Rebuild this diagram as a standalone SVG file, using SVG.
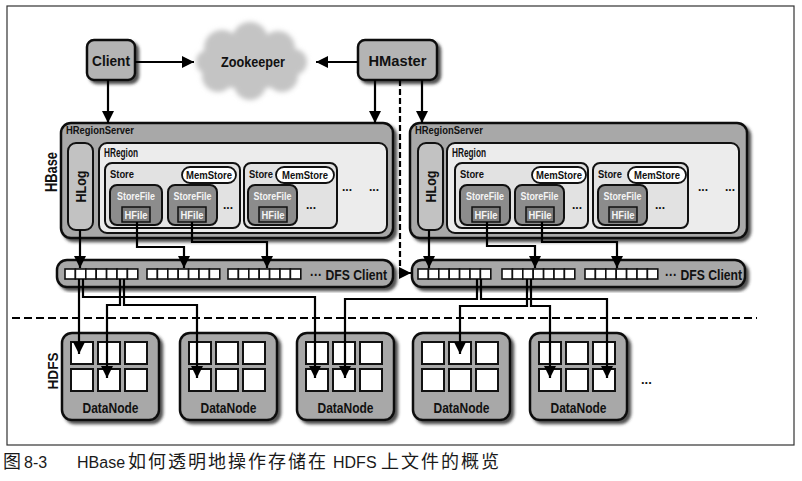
<svg xmlns="http://www.w3.org/2000/svg" width="802" height="481" viewBox="0 0 802 481">
<defs>
<style>
text{font-family:"Liberation Sans",Arial,sans-serif;font-weight:bold;fill:#111}
.box{fill:#b4b4b4;stroke:#111;stroke-width:2.5}
.srv{fill:#a8a8a8;stroke:#111;stroke-width:2.5}
.hlog{fill:#c2c2c2;stroke:#111;stroke-width:2}
.hreg{fill:#ececec;stroke:#111;stroke-width:2}
.store{fill:#e2e2e2;stroke:#111;stroke-width:2}
.mem{fill:#fff;stroke:#111;stroke-width:1.8}
.sf{fill:#8c8c8c;stroke:#111;stroke-width:2}
.hf{fill:#7a7a7a;stroke:#111;stroke-width:1.5}
.cell{fill:#fff;stroke:#111;stroke-width:2}
.dcell{fill:#fff;stroke:#111;stroke-width:1.6}
.c{text-anchor:middle}
.lt{fill:#f4f4f4}
.ln{fill:none;stroke:#000;stroke-width:2.2}
.arr{marker-end:url(#ah)}
.cap{font-family:"Liberation Sans","Noto Sans CJK SC",sans-serif;font-weight:normal;font-size:16px;fill:#1a1a1a}
.cj{font-size:18px;letter-spacing:2px}
</style>
<marker id="ah" viewBox="0 0 10 10" refX="10" refY="5" markerWidth="12" markerHeight="12" markerUnits="userSpaceOnUse" orient="auto"><path d="M0,0 L10,5 L0,10 z" fill="#000"/></marker>
<filter id="sh" x="-10%" y="-10%" width="130%" height="130%"><feDropShadow dx="3" dy="3" stdDeviation="1.6" flood-color="#333" flood-opacity="0.85"/></filter>
<filter id="blur" x="-20%" y="-20%" width="140%" height="140%"><feGaussianBlur stdDeviation="2.5"/></filter>
</defs>
<rect x="7" y="6" width="787" height="439" fill="#fff" stroke="#333" stroke-width="1.2"/>

<g id="client"><rect class="box" x="87" y="40" width="48" height="40" rx="7" filter="url(#sh)"/><text class="c" x="111" y="66" font-size="15" textLength="38" lengthAdjust="spacingAndGlyphs">Client</text></g>
<g id="zookeeper"><g filter="url(#blur)" fill="#c4c4c4"><ellipse cx="250" cy="62" rx="48" ry="28"/><circle cx="222" cy="48" r="18"/><circle cx="250" cy="40" r="18"/><circle cx="278" cy="48" r="17"/><circle cx="218" cy="76" r="16"/><circle cx="250" cy="84" r="16"/><circle cx="282" cy="76" r="16"/><circle cx="208" cy="62" r="12"/><circle cx="294" cy="62" r="13"/></g><text class="c" x="253" y="67" font-size="15" textLength="64" lengthAdjust="spacingAndGlyphs">Zookeeper</text></g>
<g id="hmaster"><rect class="box" x="358" y="40" width="79" height="40" rx="7" filter="url(#sh)"/><text class="c" x="397.5" y="66" font-size="15" textLength="58" lengthAdjust="spacingAndGlyphs">HMaster</text></g>

<g id="hbase-label"><text class="c" transform="translate(57 172) rotate(-90)" font-size="16" textLength="40" lengthAdjust="spacingAndGlyphs">HBase</text></g>
<g id="hdfs-label"><text class="c" transform="translate(58 371) rotate(-90)" font-size="15" textLength="37" lengthAdjust="spacingAndGlyphs">HDFS</text></g>

<g id="hregionserver1">
<rect class="srv" x="61" y="123" width="332" height="115" rx="10" filter="url(#sh)"/>
<text x="66" y="134" font-size="11" textLength="68" lengthAdjust="spacingAndGlyphs">HRegionServer</text>
<g id="hlog1"><rect class="hlog" x="68" y="143" width="25" height="87" rx="8"/><text class="c" transform="translate(86 186.5) rotate(-90)" font-size="14" textLength="32" lengthAdjust="spacingAndGlyphs">HLog</text></g>
<g id="hregion1">
<rect class="hreg" x="99" y="143" width="288" height="90" rx="8"/>
<text x="104" y="157" font-size="12" textLength="34" lengthAdjust="spacingAndGlyphs">HRegion</text>
<rect class="store" x="105" y="163" width="135" height="65" rx="7"/>
<text x="110" y="178" font-size="11.5" textLength="24" lengthAdjust="spacingAndGlyphs">Store</text>
<rect class="mem" x="182" y="167" width="54" height="16" rx="8"/><text class="c" x="209" y="179" font-size="11.5" textLength="46" lengthAdjust="spacingAndGlyphs">MemStore</text>
<rect class="sf" x="110" y="185" width="52" height="40" rx="7"/><text class="c lt" x="136" y="200" font-size="11.5" textLength="38" lengthAdjust="spacingAndGlyphs">StoreFile</text>
<rect class="hf" x="122" y="207" width="28" height="15"/><text class="c lt" x="136" y="219" font-size="11" textLength="23" lengthAdjust="spacingAndGlyphs">HFile</text>
<rect class="sf" x="168" y="185" width="49" height="40" rx="7"/><text class="c lt" x="192.5" y="200" font-size="11.5" textLength="38" lengthAdjust="spacingAndGlyphs">StoreFile</text>
<rect class="hf" x="178" y="207" width="28" height="15"/><text class="c lt" x="192" y="219" font-size="11" textLength="23" lengthAdjust="spacingAndGlyphs">HFile</text>
<text x="223" y="209" font-size="12">...</text>
<rect class="store" x="244" y="163" width="93" height="65" rx="7"/>
<text x="249" y="178" font-size="11.5" textLength="24" lengthAdjust="spacingAndGlyphs">Store</text>
<rect class="mem" x="276" y="167" width="58" height="16" rx="8"/><text class="c" x="305" y="179" font-size="11.5" textLength="46" lengthAdjust="spacingAndGlyphs">MemStore</text>
<rect class="sf" x="248" y="185" width="49" height="40" rx="7"/><text class="c lt" x="272.5" y="200" font-size="11.5" textLength="38" lengthAdjust="spacingAndGlyphs">StoreFile</text>
<rect class="hf" x="259" y="207" width="28" height="15"/><text class="c lt" x="273" y="219" font-size="11" textLength="23" lengthAdjust="spacingAndGlyphs">HFile</text>
<text x="306" y="209" font-size="12">...</text>
<text x="342" y="191" font-size="12">...</text>
</g>
<text x="369" y="191" font-size="12">...</text>
</g>

<g id="hregionserver2">
<rect class="srv" x="410" y="123" width="337" height="115" rx="10" filter="url(#sh)"/>
<text x="415" y="134" font-size="11" textLength="68" lengthAdjust="spacingAndGlyphs">HRegionServer</text>
<g id="hlog2"><rect class="hlog" x="418" y="143" width="25" height="87" rx="8"/><text class="c" transform="translate(436 186.5) rotate(-90)" font-size="14" textLength="32" lengthAdjust="spacingAndGlyphs">HLog</text></g>
<g id="hregion2">
<rect class="hreg" x="447" y="143" width="292" height="90" rx="8"/>
<text x="452" y="157" font-size="12" textLength="34" lengthAdjust="spacingAndGlyphs">HRegion</text>
<rect class="store" x="455" y="163" width="133" height="65" rx="7"/>
<text x="460" y="178" font-size="11.5" textLength="24" lengthAdjust="spacingAndGlyphs">Store</text>
<rect class="mem" x="532" y="167" width="54" height="16" rx="8"/><text class="c" x="559" y="179" font-size="11.5" textLength="46" lengthAdjust="spacingAndGlyphs">MemStore</text>
<rect class="sf" x="460" y="185" width="50" height="40" rx="7"/><text class="c lt" x="485" y="200" font-size="11.5" textLength="38" lengthAdjust="spacingAndGlyphs">StoreFile</text>
<rect class="hf" x="472" y="207" width="28" height="15"/><text class="c lt" x="486" y="219" font-size="11" textLength="23" lengthAdjust="spacingAndGlyphs">HFile</text>
<rect class="sf" x="515" y="185" width="49" height="40" rx="7"/><text class="c lt" x="539.5" y="200" font-size="11.5" textLength="38" lengthAdjust="spacingAndGlyphs">StoreFile</text>
<rect class="hf" x="526" y="207" width="28" height="15"/><text class="c lt" x="540" y="219" font-size="11" textLength="23" lengthAdjust="spacingAndGlyphs">HFile</text>
<text x="572" y="209" font-size="12">...</text>
<rect class="store" x="593" y="163" width="95" height="65" rx="7"/>
<text x="598" y="178" font-size="11.5" textLength="24" lengthAdjust="spacingAndGlyphs">Store</text>
<rect class="mem" x="628" y="167" width="58" height="16" rx="8"/><text class="c" x="657" y="179" font-size="11.5" textLength="46" lengthAdjust="spacingAndGlyphs">MemStore</text>
<rect class="sf" x="598" y="185" width="49" height="40" rx="7"/><text class="c lt" x="622.5" y="200" font-size="11.5" textLength="38" lengthAdjust="spacingAndGlyphs">StoreFile</text>
<rect class="hf" x="609" y="207" width="28" height="15"/><text class="c lt" x="623" y="219" font-size="11" textLength="23" lengthAdjust="spacingAndGlyphs">HFile</text>
<text x="655" y="209" font-size="12">...</text>
<text x="698" y="191" font-size="12">...</text>
</g>
<text x="725" y="191" font-size="12">...</text>
</g>

<g id="dfsclient1">
<rect class="srv" x="57" y="260" width="336" height="27" rx="10" filter="url(#sh)"/>
<g>
<rect class="dcell" x="65" y="269" width="10.4" height="10"/><rect class="dcell" x="75.4" y="269" width="10.4" height="10"/><rect class="dcell" x="85.8" y="269" width="10.4" height="10"/><rect class="dcell" x="96.2" y="269" width="10.4" height="10"/><rect class="dcell" x="106.6" y="269" width="10.4" height="10"/><rect class="dcell" x="117" y="269" width="10.4" height="10"/><rect class="dcell" x="127.4" y="269" width="10.4" height="10"/>
<rect class="dcell" x="147" y="269" width="10.4" height="10"/><rect class="dcell" x="157.4" y="269" width="10.4" height="10"/><rect class="dcell" x="167.8" y="269" width="10.4" height="10"/><rect class="dcell" x="178.2" y="269" width="10.4" height="10"/><rect class="dcell" x="188.6" y="269" width="10.4" height="10"/><rect class="dcell" x="199" y="269" width="10.4" height="10"/><rect class="dcell" x="209.4" y="269" width="10.4" height="10"/>
<rect class="dcell" x="228" y="269" width="10.4" height="10"/><rect class="dcell" x="238.4" y="269" width="10.4" height="10"/><rect class="dcell" x="248.8" y="269" width="10.4" height="10"/><rect class="dcell" x="259.2" y="269" width="10.4" height="10"/><rect class="dcell" x="269.6" y="269" width="10.4" height="10"/><rect class="dcell" x="280" y="269" width="10.4" height="10"/><rect class="dcell" x="290.4" y="269" width="10.4" height="10"/>
</g>
<text x="310" y="280" font-size="15" textLength="77" lengthAdjust="spacingAndGlyphs">··· DFS Client</text>
</g>

<g id="dfsclient2">
<rect class="srv" x="412" y="260" width="333" height="27" rx="10" filter="url(#sh)"/>
<g>
<rect class="dcell" x="418" y="269" width="10.4" height="10"/><rect class="dcell" x="428.4" y="269" width="10.4" height="10"/><rect class="dcell" x="438.8" y="269" width="10.4" height="10"/><rect class="dcell" x="449.2" y="269" width="10.4" height="10"/><rect class="dcell" x="459.6" y="269" width="10.4" height="10"/><rect class="dcell" x="470" y="269" width="10.4" height="10"/><rect class="dcell" x="480.4" y="269" width="10.4" height="10"/>
<rect class="dcell" x="502" y="269" width="10.4" height="10"/><rect class="dcell" x="512.4" y="269" width="10.4" height="10"/><rect class="dcell" x="522.8" y="269" width="10.4" height="10"/><rect class="dcell" x="533.2" y="269" width="10.4" height="10"/><rect class="dcell" x="543.6" y="269" width="10.4" height="10"/><rect class="dcell" x="554" y="269" width="10.4" height="10"/><rect class="dcell" x="564.4" y="269" width="10.4" height="10"/>
<rect class="dcell" x="585" y="269" width="10.4" height="10"/><rect class="dcell" x="595.4" y="269" width="10.4" height="10"/><rect class="dcell" x="605.8" y="269" width="10.4" height="10"/><rect class="dcell" x="616.2" y="269" width="10.4" height="10"/><rect class="dcell" x="626.6" y="269" width="10.4" height="10"/><rect class="dcell" x="637" y="269" width="10.4" height="10"/><rect class="dcell" x="647.4" y="269" width="10.4" height="10"/>
</g>
<text x="665" y="280" font-size="15" textLength="77" lengthAdjust="spacingAndGlyphs">··· DFS Client</text>
</g>

<g id="datanode1"><rect class="srv" x="62" y="333" width="97" height="87" rx="10" filter="url(#sh)"/>
<rect class="cell" x="71" y="342" width="22" height="22"/><rect class="cell" x="98" y="342" width="22" height="22"/><rect class="cell" x="125" y="342" width="22" height="22"/><rect class="cell" x="71" y="369" width="22" height="22"/><rect class="cell" x="98" y="369" width="22" height="22"/><rect class="cell" x="125" y="369" width="22" height="22"/>
<text class="c" x="110.5" y="413" font-size="15" textLength="56" lengthAdjust="spacingAndGlyphs">DataNode</text></g>
<g id="datanode2"><rect class="srv" x="180" y="333" width="97" height="87" rx="10" filter="url(#sh)"/>
<rect class="cell" x="189" y="342" width="22" height="22"/><rect class="cell" x="216" y="342" width="22" height="22"/><rect class="cell" x="243" y="342" width="22" height="22"/><rect class="cell" x="189" y="369" width="22" height="22"/><rect class="cell" x="216" y="369" width="22" height="22"/><rect class="cell" x="243" y="369" width="22" height="22"/>
<text class="c" x="228.5" y="413" font-size="15" textLength="56" lengthAdjust="spacingAndGlyphs">DataNode</text></g>
<g id="datanode3"><rect class="srv" x="297" y="333" width="97" height="87" rx="10" filter="url(#sh)"/>
<rect class="cell" x="306" y="342" width="22" height="22"/><rect class="cell" x="333" y="342" width="22" height="22"/><rect class="cell" x="360" y="342" width="22" height="22"/><rect class="cell" x="306" y="369" width="22" height="22"/><rect class="cell" x="333" y="369" width="22" height="22"/><rect class="cell" x="360" y="369" width="22" height="22"/>
<text class="c" x="345.5" y="413" font-size="15" textLength="56" lengthAdjust="spacingAndGlyphs">DataNode</text></g>
<g id="datanode4"><rect class="srv" x="413" y="333" width="97" height="87" rx="10" filter="url(#sh)"/>
<rect class="cell" x="422" y="342" width="22" height="22"/><rect class="cell" x="449" y="342" width="22" height="22"/><rect class="cell" x="476" y="342" width="22" height="22"/><rect class="cell" x="422" y="369" width="22" height="22"/><rect class="cell" x="449" y="369" width="22" height="22"/><rect class="cell" x="476" y="369" width="22" height="22"/>
<text class="c" x="461.5" y="413" font-size="15" textLength="56" lengthAdjust="spacingAndGlyphs">DataNode</text></g>
<g id="datanode5"><rect class="srv" x="530" y="333" width="97" height="87" rx="10" filter="url(#sh)"/>
<rect class="cell" x="539" y="342" width="22" height="22"/><rect class="cell" x="566" y="342" width="22" height="22"/><rect class="cell" x="593" y="342" width="22" height="22"/><rect class="cell" x="539" y="369" width="22" height="22"/><rect class="cell" x="566" y="369" width="22" height="22"/><rect class="cell" x="593" y="369" width="22" height="22"/>
<text class="c" x="578.5" y="413" font-size="15" textLength="56" lengthAdjust="spacingAndGlyphs">DataNode</text></g>
<text x="641" y="384" font-size="13">...</text>

<line x1="12" y1="318" x2="757" y2="318" stroke="#000" stroke-width="2" stroke-dasharray="8,4"/>

<g id="connectors">
<path class="ln arr" d="M135,62 H194"/>
<path class="ln arr" d="M358,62 H316"/>
<path class="ln arr" d="M108,80 V123"/>
<path class="ln arr" d="M375,80 V123"/>
<path class="ln arr" d="M422,80 V123"/>
<path class="ln arr" d="M400,80 V273 H411" stroke-dasharray="6,3"/>
<path class="ln arr" d="M80,230 V268"/>
<path class="ln arr" d="M137,222 V247 H184 V268"/>
<path class="ln arr" d="M192,222 V242 H267 V268"/>
<path class="ln arr" d="M429,230 V268"/>
<path class="ln arr" d="M487,222 V246 H535 V268"/>
<path class="ln arr" d="M542,222 V242 H617 V268"/>
<path class="ln arr" d="M79,279 V354"/>
<path class="ln arr" d="M83,279 V297 H315 V378"/>
<path class="ln arr" d="M120,279 V305 H107 V378"/>
<path class="ln arr" d="M124,279 V305 H197 V378"/>
<path class="ln arr" d="M477,279 V299 H345 V378"/>
<path class="ln arr" d="M481,279 V299 H607 V378"/>
<path class="ln arr" d="M527,279 V306 H460 V354"/>
<path class="ln arr" d="M531,279 V306 H550 V378"/>
</g>

<text class="cap" y="468"><tspan x="3" class="cj">图</tspan><tspan x="24">8-3</tspan><tspan x="77">HBase</tspan><tspan x="128" class="cj">如何透明地操作存储在</tspan><tspan x="333">HDFS</tspan><tspan x="381" class="cj">上文件的概览</tspan></text>
</svg>
